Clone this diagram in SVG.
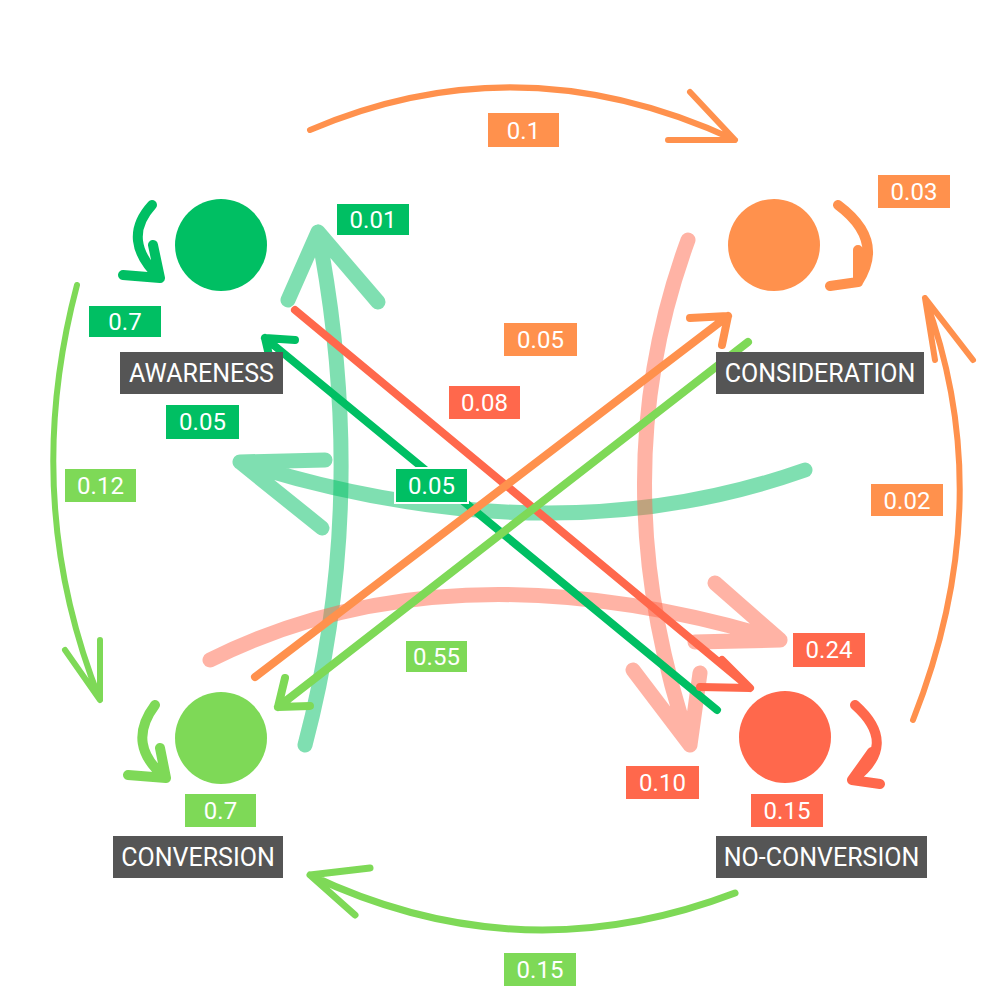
<svg xmlns="http://www.w3.org/2000/svg" width="1000" height="1000" viewBox="0 0 1000 1000">
<style>
.c{fill:none;stroke-linecap:round;stroke-linejoin:round}
.g{stroke:#00BF63}.lg{stroke:#7ED957}.o{stroke:#FF914D}.r{stroke:#FF684C}
.t{opacity:0.5}
.lb{stroke:#fff;stroke-width:2}
.lt{font-family:Roboto,"Liberation Sans",sans-serif;font-size:24px;fill:#fff;text-anchor:middle}
.nt{font-family:Roboto,"Liberation Sans",sans-serif;font-size:25px;fill:#fff;text-anchor:middle}
</style>
<rect width="1000" height="1000" fill="#fff"/>
<g id="connectors">
 <path class="c o" stroke-width="6" d="M310 130 Q520 40 735 140 M690 92 L735 140 L668 140"/>
 <path class="c lg" stroke-width="6" d="M77 285 Q20 500 100 700 M65 650 L100 700 L100 640"/>
 <path class="c o" stroke-width="6" d="M913 720 Q1000 500 925 298 M935 360 L925 298 L973 360"/>
 <path class="c lg" stroke-width="7" d="M735 893 Q520 975 310 875 M355 915 L310 875 L370 868"/>
 <path class="c g" stroke-width="10" d="M152 205 Q120 240 160 278 M123 275 L160 278 L153 245"/>
 <path class="c o" stroke-width="10" d="M838 205 Q885 240 858 282 M858 250 L858 282 L830 286"/>
 <path class="c lg" stroke-width="10" d="M155 705 Q125 745 166 778 M128 775 L166 778 L160 748"/>
 <path class="c r" stroke-width="10" d="M855 705 Q900 745 852 780 M872 752 L852 780 L880 784"/>
 <path class="c g t" stroke-width="15" d="M805 470 Q550 560 240 462 M325 460 L240 462 L322 528"/>
 <path class="c g t" stroke-width="15" d="M305 745 Q370 500 318 232 M288 300 L318 232 L378 302"/>
 <path class="c r t" stroke-width="15" d="M210 660 Q450 540 780 640 M715 583 L780 640 L695 642"/>
 <path class="c r t" stroke-width="15" d="M688 240 Q600 480 690 745 M633 670 L690 745 L700 673"/>
 <path class="c g" stroke-width="8" d="M717 710 L265 338 M295 340 L265 338 L272 368"/>
 <path class="c r" stroke-width="8" d="M295 310 L750 688 M722 660 L750 688 L700 687"/>
 <path class="c o" stroke-width="8" d="M255 677 L728 316 M690 318 L728 316 L722 345"/>
 <path class="c lg" stroke-width="8" d="M748 342 L278 707 M285 678 L278 707 L310 706"/>
</g>
<g id="awareness">
 <circle cx="221" cy="245" r="46" fill="#00BF63"/>
 <rect x="120" y="352" width="163" height="42" fill="#555"/>
 <text class="nt" x="201.5" y="382">AWARENESS</text>
</g>
<g id="consideration">
 <circle cx="774" cy="245" r="46" fill="#FF914D"/>
 <rect x="716" y="352" width="208" height="42" fill="#555"/>
 <text class="nt" x="820" y="382">CONSIDERATION</text>
</g>
<g id="conversion">
 <circle cx="221" cy="738" r="46" fill="#7ED957"/>
 <rect x="113" y="836" width="170" height="42" fill="#555"/>
 <text class="nt" x="198" y="866">CONVERSION</text>
</g>
<g id="noconversion">
 <circle cx="785" cy="737" r="46" fill="#FF684C"/>
 <rect x="716" y="836" width="211" height="42" fill="#555"/>
 <text class="nt" x="821.5" y="866">NO-CONVERSION</text>
</g>
<g id="labels">
 <rect class="lb" x="487" y="112" width="73" height="36" fill="#FF914D"/><text class="lt" x="523.5" y="139">0.1</text>
 <rect class="lb" x="88" y="305" width="74" height="33" fill="#00BF63"/><text class="lt" x="125" y="330">0.7</text>
 <rect class="lb" x="64" y="468" width="73" height="35" fill="#7ED957"/><text class="lt" x="100.5" y="494">0.12</text>
 <rect class="lb" x="877" y="174" width="74" height="35" fill="#FF914D"/><text class="lt" x="914" y="200">0.03</text>
 <rect class="lb" x="870" y="483" width="74" height="34" fill="#FF914D"/><text class="lt" x="907" y="509">0.02</text>
 <rect class="lb" x="503" y="952" width="74" height="35" fill="#7ED957"/><text class="lt" x="540" y="978">0.15</text>
 <rect class="lb" x="184" y="793" width="73" height="35" fill="#7ED957"/><text class="lt" x="220.5" y="819">0.7</text>
 <rect class="lb" x="750" y="793" width="74" height="35" fill="#FF684C"/><text class="lt" x="787" y="819">0.15</text>
 <rect class="lb" x="165" y="404" width="75" height="36" fill="#00BF63"/><text class="lt" x="202.5" y="430">0.05</text>
 <rect class="lb" x="336" y="203" width="74" height="33" fill="#00BF63"/><text class="lt" x="373" y="228">0.01</text>
 <rect class="lb" x="395" y="468" width="73" height="35" fill="#00BF63"/><text class="lt" x="431.5" y="494">0.05</text>
 <rect class="lb" x="448" y="385" width="73" height="35" fill="#FF684C"/><text class="lt" x="484.5" y="411">0.08</text>
 <rect class="lb" x="503" y="322" width="75" height="35" fill="#FF914D"/><text class="lt" x="540.5" y="348">0.05</text>
 <rect class="lb" x="405" y="640" width="63" height="33" fill="#7ED957"/><text class="lt" x="436.5" y="665">0.55</text>
 <rect class="lb" x="792" y="632" width="74" height="36" fill="#FF684C"/><text class="lt" x="829" y="658">0.24</text>
 <rect class="lb" x="625" y="765" width="75" height="35" fill="#FF684C"/><text class="lt" x="662.5" y="791">0.10</text>
</g>
</svg>
